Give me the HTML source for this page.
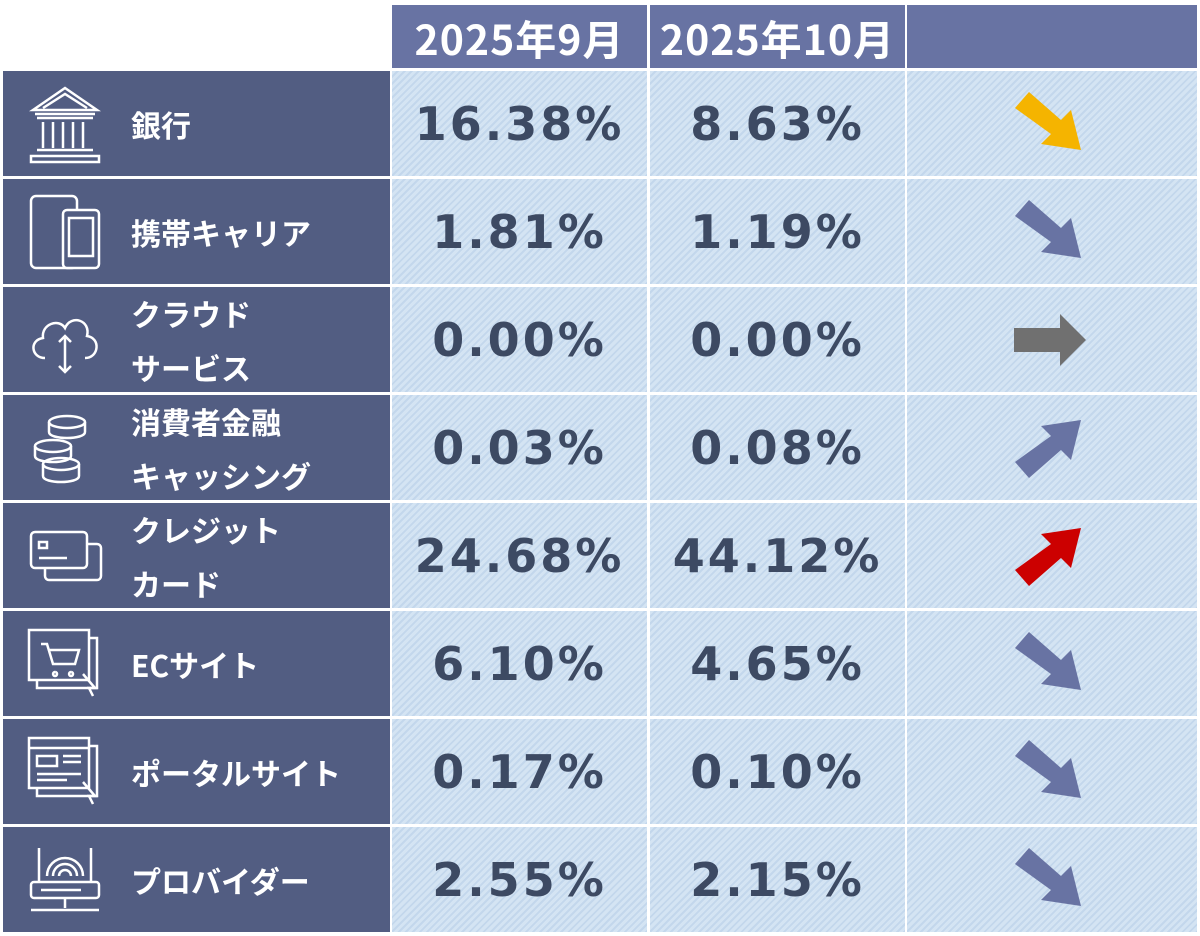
<!DOCTYPE html>
<html><head><meta charset="utf-8"><style>
body{margin:0;width:1200px;height:936px;background:#fff;position:relative;overflow:hidden;font-family:"Liberation Sans","Noto Sans CJK JP",sans-serif}
.h{position:absolute;top:5px;height:63px;background:#6873a3;color:#fff;font-weight:bold;font-size:41px;letter-spacing:1px;display:flex;align-items:center;justify-content:center;font-family:"Noto Sans CJK JP",sans-serif}
.l{position:absolute;left:3px;width:387px;height:105px;background:#525d82;color:#fff;font-weight:bold;font-family:"Noto Sans CJK JP",sans-serif;font-size:30px}
.l .t{position:absolute;left:128px;top:50%;transform:translateY(-50%);line-height:54px}
.l svg{position:absolute;left:22px;top:50%;transform:translateY(-50%)}
.c{position:absolute;height:105px;background:repeating-linear-gradient(135deg,#d4e4f3 0 3px,#c3d7ec 3px 5px);color:#3d4a63;font-weight:bold;font-size:46px;display:flex;align-items:center;justify-content:center;letter-spacing:3px;font-family:"DejaVu Sans",sans-serif}
.a{position:absolute}
</style></head><body>
<div class="h" style="left:392px;width:255px">2025年9月</div>
<div class="h" style="left:650px;width:255px">2025年10月</div>
<div class="h" style="left:907px;width:290px"></div>

<div class="l" style="top:71px"><svg width="80" height="80" viewBox="0 0 80 80" fill="none" stroke="#fff" stroke-width="2.5"><path d="M8 26 L40 4 L72 26 Z M18 24 L40 10 L62 24"/><path d="M10 30h60M12 34h56M12 66h56M6 72h68v6H6z"/><path d="M18 38v26M28 38v26M38 38v26M48 38v26M58 38v26"/></svg><div class="t">銀行</div></div>
<div class="c" style="left:392px;top:71px;width:255px">16.38%</div>
<div class="c" style="left:650px;top:71px;width:255px">8.63%</div>
<div class="c" style="left:907px;top:71px;width:290px"></div>

<div class="l" style="top:179px"><svg width="80" height="80" viewBox="0 0 80 80" fill="none" stroke="#fff" stroke-width="2.5"><rect x="6" y="4" width="46" height="72" rx="5"/><rect x="38" y="18" width="36" height="58" rx="4" fill="#525d82"/><rect x="44" y="26" width="24" height="38"/></svg><div class="t">携帯キャリア</div></div>
<div class="c" style="left:392px;top:179px;width:255px">1.81%</div>
<div class="c" style="left:650px;top:179px;width:255px">1.19%</div>
<div class="c" style="left:907px;top:179px;width:290px"></div>

<div class="l" style="top:287px"><svg width="80" height="80" viewBox="0 0 80 80" fill="none" stroke="#fff" stroke-width="2.5"><path d="M20 58 C6 58 4 40 18 38 C16 24 34 18 40 28 C46 14 66 20 62 36 C76 38 74 58 60 58"/><path d="M40 36v36M34 42l6-6 6 6M34 66l6 6 6-6"/></svg><div class="t">クラウド<br>サービス</div></div>
<div class="c" style="left:392px;top:287px;width:255px">0.00%</div>
<div class="c" style="left:650px;top:287px;width:255px">0.00%</div>
<div class="c" style="left:907px;top:287px;width:290px"></div>

<div class="l" style="top:395px"><svg width="80" height="80" viewBox="0 0 80 80" fill="none" stroke="#fff" stroke-width="2.5"><ellipse cx="42" cy="14" rx="18" ry="6"/><path d="M24 14v10c0 8 36 8 36 0V14"/><ellipse cx="28" cy="38" rx="18" ry="6"/><path d="M10 38v10c0 8 36 8 36 0V38"/><ellipse cx="36" cy="56" rx="18" ry="6"/><path d="M18 56v12c0 8 36 8 36 0V56"/></svg><div class="t">消費者金融<br>キャッシング</div></div>
<div class="c" style="left:392px;top:395px;width:255px">0.03%</div>
<div class="c" style="left:650px;top:395px;width:255px">0.08%</div>
<div class="c" style="left:907px;top:395px;width:290px"></div>

<div class="l" style="top:503px"><svg width="80" height="80" viewBox="0 0 80 80" fill="none" stroke="#fff" stroke-width="2.5"><rect x="20" y="28" width="56" height="36" rx="4"/><rect x="6" y="16" width="56" height="36" rx="4" fill="#525d82"/><path d="M14 26h8v6h-8zM14 42h28"/></svg><div class="t">クレジット<br>カード</div></div>
<div class="c" style="left:392px;top:503px;width:255px">24.68%</div>
<div class="c" style="left:650px;top:503px;width:255px">44.12%</div>
<div class="c" style="left:907px;top:503px;width:290px"></div>

<div class="l" style="top:611px"><svg width="80" height="80" viewBox="0 0 80 80" fill="none" stroke="#fff" stroke-width="2.5"><rect x="12" y="14" width="60" height="50"/><rect x="4" y="6" width="60" height="50" fill="#525d82"/><path d="M16 20h6l6 20h22l4-14H24M30 48a2 2 0 1 0 .1 0M46 48a2 2 0 1 0 .1 0M58 50l12 14-6 0 4 8"/></svg><div class="t">ECサイト</div></div>
<div class="c" style="left:392px;top:611px;width:255px">6.10%</div>
<div class="c" style="left:650px;top:611px;width:255px">4.65%</div>
<div class="c" style="left:907px;top:611px;width:290px"></div>

<div class="l" style="top:719px"><svg width="80" height="80" viewBox="0 0 80 80" fill="none" stroke="#fff" stroke-width="2.5"><rect x="12" y="14" width="60" height="50"/><rect x="4" y="6" width="60" height="50" fill="#525d82"/><path d="M4 16h60M12 24h20v10H12zM38 24h18M38 30h18M12 42h44M12 48h30M58 50l12 14-6 0 4 8"/></svg><div class="t">ポータルサイト</div></div>
<div class="c" style="left:392px;top:719px;width:255px">0.17%</div>
<div class="c" style="left:650px;top:719px;width:255px">0.10%</div>
<div class="c" style="left:907px;top:719px;width:290px"></div>

<div class="l" style="top:827px"><svg width="80" height="80" viewBox="0 0 80 80" fill="none" stroke="#fff" stroke-width="2.5"><path d="M14 42V8M66 42V8M22 36a18 18 0 0 1 36 0M28 36a12 12 0 0 1 24 0M34 36a6 6 0 0 1 12 0"/><rect x="6" y="42" width="68" height="16" rx="3"/><path d="M40 58v10M6 70h68M16 50h40"/></svg><div class="t">プロバイダー</div></div>
<div class="c" style="left:392px;top:827px;width:255px">2.55%</div>
<div class="c" style="left:650px;top:827px;width:255px">2.15%</div>
<div class="c" style="left:907px;top:827px;width:290px"></div>

<svg class="a" style="left:1005px;top:88px" width="90" height="70" viewBox="0 0 90 70"><polygon points="10,20 24,4 56,32 66,22 76,62 36,56 46,46" fill="#f5b400"/></svg>
<svg class="a" style="left:1005px;top:196px" width="90" height="70" viewBox="0 0 90 70"><polygon points="10,20 24,4 56,32 66,22 76,62 36,56 46,46" fill="#6873a3"/></svg>
<svg class="a" style="left:1010px;top:310px" width="80" height="60" viewBox="0 0 80 60"><polygon points="4,18 50,18 50,4 76,30 50,56 50,42 4,42" fill="#707070"/></svg>
<svg class="a" style="left:1005px;top:412px" width="90" height="70" viewBox="0 0 90 70"><polygon points="10,50 24,66 56,38 66,48 76,8 36,14 46,24" fill="#6873a3"/></svg>
<svg class="a" style="left:1005px;top:520px" width="90" height="70" viewBox="0 0 90 70"><polygon points="10,50 24,66 56,38 66,48 76,8 36,14 46,24" fill="#cc0000"/></svg>
<svg class="a" style="left:1005px;top:628px" width="90" height="70" viewBox="0 0 90 70"><polygon points="10,20 24,4 56,32 66,22 76,62 36,56 46,46" fill="#6873a3"/></svg>
<svg class="a" style="left:1005px;top:736px" width="90" height="70" viewBox="0 0 90 70"><polygon points="10,20 24,4 56,32 66,22 76,62 36,56 46,46" fill="#6873a3"/></svg>
<svg class="a" style="left:1005px;top:844px" width="90" height="70" viewBox="0 0 90 70"><polygon points="10,20 24,4 56,32 66,22 76,62 36,56 46,46" fill="#6873a3"/></svg>
</body></html>
